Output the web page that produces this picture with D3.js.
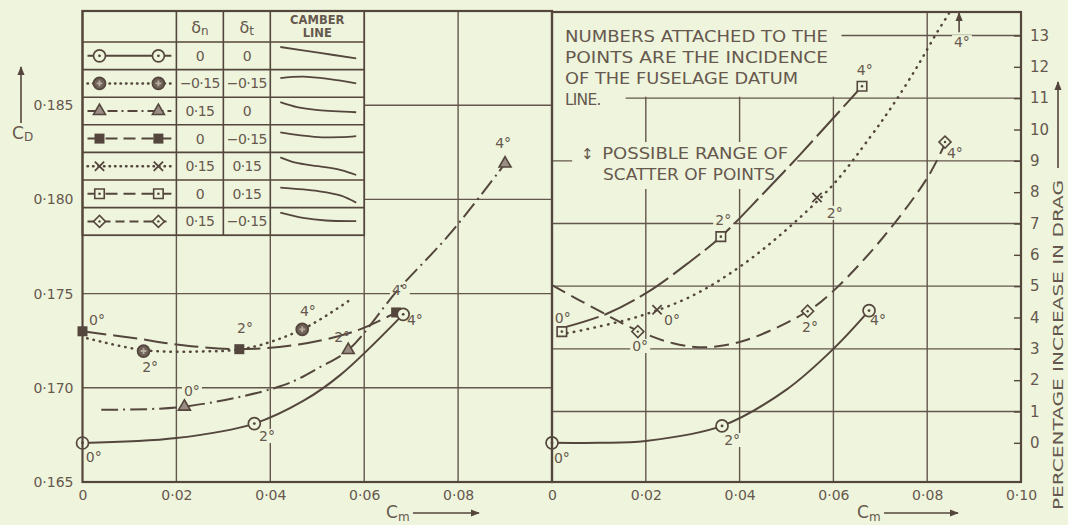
<!DOCTYPE html>
<html lang="en">
<head>
<meta charset="UTF-8">
<title>C_D and drag increase against C_m</title>
<script src="https://d3js.org/d3.v7.min.js"></script>
<style>
  body { margin: 0; background: #eef5dc; }
  svg { display: block; }
  text { font-family: "DejaVu Sans", sans-serif; fill: #66584e; }
</style>
</head>
<body>
<svg id="chart" width="1068" height="525"></svg>
<script>
// ---- ticks and grid ----
const cmTicksLeft = [0, 0.02, 0.04, 0.06, 0.08];
const cmTicksRight = [0, 0.02, 0.04, 0.06, 0.08, 0.10];
const cmGrid = [0.02, 0.04, 0.06, 0.08];
const cdTicks = [0.165, 0.170, 0.175, 0.180, 0.185];
const cdGrid = [0.170, 0.175, 0.180, 0.185];
const pctTicks = [0, 1, 2, 3, 4, 5, 6, 7, 8, 9, 10, 11, 12, 13];
const pctGrid = [1, 3, 5, 7, 9, 11, 13];

// ---- legend table ----
const legendKeys = ["circleDot", "circleHatch", "triangle", "squareFilled", "cross", "squareDot", "diamond"];
const legendDeltaN = ["0", "\u22120\u00b715", "0\u00b715", "0", "0\u00b715", "0", "0\u00b715"];
const legendDeltaT = ["0", "\u22120\u00b715", "0", "\u22120\u00b715", "0\u00b715", "0\u00b715", "\u22120\u00b715"];
// camber line shapes, [chordwise fraction, depth fraction]
const camberLines = [
  [[0, 0.0], [0.5, 0.32], [1, 0.65]],
  [[0, 0.2], [0.3, 0.12], [0.65, 0.26], [1, 0.5]],
  [[0, 0.0], [0.22, 0.28], [0.5, 0.45], [1, 0.57]],
  [[0, 0.15], [0.45, 0.4], [0.8, 0.42], [1, 0.36]],
  [[0, 0.0], [0.2, 0.3], [0.5, 0.5], [0.8, 0.72], [1, 1.0]],
  [[0, 0.15], [0.5, 0.35], [0.8, 0.6], [1, 1.0]],
  [[0, 0.0], [0.3, 0.3], [0.6, 0.45], [1, 0.48]]
];

// ---- left panel: C_D against C_m ----
const cdCircleDotPts = [[0, 0.16707], [0.0366, 0.1681], [0.0683, 0.1739]];
const cdCircleDotCurve = [[0, 0.16707], [0.02, 0.16733], [0.0366, 0.1681], [0.047, 0.1693], [0.055, 0.1707], [0.0683, 0.1739]];
const cdHatchPts = [[0.013, 0.17195], [0.0468, 0.1731]];
const cdHatchCurve = [[0.001, 0.17263], [0.013, 0.172], [0.025, 0.17193], [0.035, 0.1721], [0.0468, 0.1731], [0.0566, 0.1746]];
const cdTrianglePts = [[0.0217, 0.169], [0.0566, 0.172], [0.09, 0.1819]];
const cdTriangleCurve = [[0.004, 0.16884], [0.0217, 0.169], [0.0428, 0.17014], [0.0506, 0.1711], [0.0566, 0.172], [0.0672, 0.1752], [0.078, 0.1781], [0.09, 0.1819]];
const cdSquarePts = [[0, 0.173], [0.0334, 0.17205], [0.0668, 0.174]];
const cdSquareCurve = [[0, 0.173], [0.012, 0.1726], [0.02, 0.1723], [0.0334, 0.17205], [0.046, 0.1723], [0.058, 0.173], [0.0668, 0.174]];
const cdLabels = [
  [0.0031, 0.1736, "0°"], [0.0024, 0.16633, "0°"], [0.0144, 0.1711, "2°"], [0.0233, 0.16983, "0°"],
  [0.0393, 0.16744, "2°"], [0.0346, 0.17317, "2°"], [0.048, 0.17408, "4°"], [0.0553, 0.1727, "2°"],
  [0.0676, 0.1752, "4°"], [0.0708, 0.1736, "4°"], [0.0896, 0.183, "4°"]
];

// ---- right panel: percentage increase in drag against C_m ----
const pctCircleDotPts = [[0, 0], [0.03625, 0.54], [0.0676, 4.22]];
const pctCircleDotCurve = [[0, 0], [0.01, 0], [0.02, 0.06], [0.03625, 0.54], [0.05, 1.7], [0.06, 3.0], [0.0676, 4.22]];
const pctSquareDotPts = [[0.0021, 3.55], [0.036, 6.58], [0.0661, 11.38]];
const pctSquareDotCurve = [[0.003, 3.7], [0.0117, 4.12], [0.0203, 4.8], [0.0294, 5.78], [0.036, 6.58], [0.045, 7.95], [0.0529, 9.2], [0.0614, 10.6], [0.0661, 11.38]];
const pctCrossPts = [[0.0224, 4.25], [0.0565, 7.83]];
const pctCrossCurve = [[0.0032, 3.5], [0.0066, 3.6], [0.0188, 4.05], [0.03, 4.7], [0.0407, 5.69], [0.0507, 6.9], [0.06, 8.25], [0.0678, 9.75], [0.0725, 10.74], [0.0778, 11.99], [0.0821, 13.1], [0.0848, 13.75], [0.086, 14.1]];
const pctCrossOffChart = [0.0868, 13.1, 13.72];
const pctDiamondPts = [[0.0183, 3.55], [0.0545, 4.2], [0.0838, 9.6]];
const pctDiamondCurve = [[0, 5.03], [0.0102, 4.2], [0.0183, 3.58], [0.0258, 3.18], [0.033, 3.05], [0.0416, 3.29], [0.0545, 4.2], [0.06, 4.85], [0.07, 6.45], [0.08, 8.45], [0.0838, 9.55]];
const pctLabels = [
  [0.0023, 4.0, "0°"], [0.0021, -0.49, "0°"], [0.0256, 3.92, "0°"], [0.0188, 3.09, "0°"],
  [0.0384, 0.09, "2°"], [0.0365, 7.11, "2°"], [0.055, 3.7, "2°"], [0.0603, 7.34, "2°"],
  [0.0667, 11.9, "4°"], [0.0695, 3.92, "4°"], [0.0859, 9.25, "4°"], [0.0874, 12.79, "4°"]
];

const noteLines = ["NUMBERS ATTACHED TO THE", "POINTS ARE THE INCIDENCE", "OF THE FUSELAGE DATUM", "LINE."];
const scatterLines = ["POSSIBLE RANGE OF", "SCATTER OF POINTS"];

// ---- setup ----
const svg = d3.select("#chart");
const bg = "#eef5dc", ink = "#54463d", grid = "#64564c";

const xL = d3.scaleLinear().domain([0, 0.10]).range([82.5, 552]);
const yL = d3.scaleLinear().domain([0.165, 0.190]).range([482, 11]);
const xR = d3.scaleLinear().domain([0, 0.10]).range([552, 1021]);
const yR = d3.scaleLinear().domain([-1.25, 13.75]).range([482, 12]);

svg.append("rect").attr("width", 1068).attr("height", 525).attr("fill", bg);

const defs = svg.append("defs");
defs.append("marker").attr("id", "arrow").attr("viewBox", "0 0 10 10")
  .attr("refX", 9).attr("refY", 5).attr("markerWidth", 9).attr("markerHeight", 9)
  .attr("markerUnits", "userSpaceOnUse").attr("orient", "auto")
  .append("path").attr("d", "M0,1L10,5L0,9Z").attr("fill", ink);
defs.append("clipPath").attr("id", "clipL").append("rect")
  .attr("x", xL(0)).attr("y", yL(0.19)).attr("width", xL(0.1) - xL(0)).attr("height", yL(0.165) - yL(0.19));
defs.append("clipPath").attr("id", "clipR").append("rect")
  .attr("x", xR(0)).attr("y", yR(13.75)).attr("width", xR(0.1) - xR(0)).attr("height", yR(-1.25) - yR(13.75));

// ---- grid ----
const gGrid = svg.append("g").attr("stroke", grid).attr("stroke-width", 1.4);
gGrid.selectAll(".vl").data(cmGrid).join("line")
  .attr("x1", d => xL(d)).attr("x2", d => xL(d)).attr("y1", yL(0.19)).attr("y2", yL(0.165));
gGrid.selectAll(".hl").data(cdGrid).join("line")
  .attr("x1", xL(0)).attr("x2", xL(0.1)).attr("y1", d => yL(d)).attr("y2", d => yL(d));
gGrid.append("g").selectAll("line").data(cmGrid).join("line")
  .attr("x1", d => xR(d)).attr("x2", d => xR(d)).attr("y1", yR(13.75)).attr("y2", yR(-1.25));
gGrid.append("g").selectAll("line").data(pctGrid).join("line")
  .attr("x1", xR(0)).attr("x2", xR(0.1)).attr("y1", d => yR(d)).attr("y2", d => yR(d));

// ---- masks for the notes ----
const gMask = svg.append("g").attr("fill", bg);
gMask.append("rect").attr("x", xR(0) + 1).attr("y", yR(13.75) + 1)
  .attr("width", xR(0.0615) - xR(0)).attr("height", yR(11) - yR(13.75) - 2.5);
gMask.append("rect").attr("x", xR(0) + 1).attr("y", yR(11) - 6)
  .attr("width", xR(0.0155) - xR(0)).attr("height", 12);
gMask.append("rect").attr("x", xR(0.0043)).attr("y", yR(9.6))
  .attr("width", xR(0.0523) - xR(0.0043)).attr("height", yR(8.1) - yR(9.6));

// ---- legend table ----
const tTop = yL(0.19), headH = 31, rowH = 27.6;
const tCols = [0, 0.02, 0.03, 0.04, 0.06].map(d => xL(d));
const tBottom = tTop + headH + rowH * legendKeys.length;
const gTable = svg.append("g");
gTable.append("rect").attr("x", tCols[0]).attr("y", tTop).attr("width", tCols[4] - tCols[0])
  .attr("height", tBottom - tTop).attr("fill", bg).attr("stroke", ink).attr("stroke-width", 1.8);
gTable.selectAll(".col").data(tCols.slice(1, 4)).join("line")
  .attr("x1", d => d).attr("x2", d => d).attr("y1", tTop).attr("y2", tBottom)
  .attr("stroke", ink).attr("stroke-width", 1.6);
gTable.selectAll(".row").data(legendKeys).join("line")
  .attr("x1", tCols[0]).attr("x2", tCols[4])
  .attr("y1", (d, i) => tTop + headH + rowH * i).attr("y2", (d, i) => tTop + headH + rowH * i)
  .attr("stroke", ink).attr("stroke-width", 1.6);

const hdr = (x, sub) => {
  const t = gTable.append("text").attr("x", x).attr("y", tTop + 22).attr("text-anchor", "middle")
    .attr("font-size", 16);
  t.append("tspan").text("\u03b4");
  t.append("tspan").attr("font-size", 12).attr("dy", 2).text(sub);
};
hdr((tCols[1] + tCols[2]) / 2, "n");
hdr((tCols[2] + tCols[3]) / 2, "t");
gTable.append("text").attr("x", (tCols[3] + tCols[4]) / 2).attr("y", tTop + 13).attr("text-anchor", "middle")
  .attr("font-size", 11.5).attr("font-weight", "bold").text("CAMBER");
gTable.append("text").attr("x", (tCols[3] + tCols[4]) / 2).attr("y", tTop + 26).attr("text-anchor", "middle")
  .attr("font-size", 11.5).attr("font-weight", "bold").text("LINE");

// ---- markers ----
function drawMarker(g, key, cx, cy) {
  const m = g.append("g").attr("transform", `translate(${cx},${cy})`);
  if (key === "circleDot") {
    m.append("circle").attr("r", 6).attr("fill", bg).attr("stroke", ink).attr("stroke-width", 1.7);
    m.append("circle").attr("r", 1.4).attr("fill", ink);
  } else if (key === "circleHatch") {
    m.append("circle").attr("r", 6).attr("fill", "#6e6158").attr("stroke", ink).attr("stroke-width", 1.7);
    m.append("path").attr("d", d3.symbol(d3.symbolCross, 18)()).attr("fill", "#b7ae9f");
  } else if (key === "triangle") {
    m.append("path").attr("d", d3.symbol(d3.symbolTriangle, 62)()).attr("fill", "#9a8d83")
      .attr("stroke", ink).attr("stroke-width", 1.6);
  } else if (key === "squareFilled") {
    m.append("path").attr("d", d3.symbol(d3.symbolSquare, 100)()).attr("fill", ink);
  } else if (key === "cross") {
    m.append("path").attr("d", d3.symbol(d3.symbolTimes, 58)()).attr("fill", "none")
      .attr("stroke", ink).attr("stroke-width", 1.8);
  } else if (key === "squareDot") {
    m.append("path").attr("d", d3.symbol(d3.symbolSquare, 90)()).attr("fill", bg)
      .attr("stroke", ink).attr("stroke-width", 1.6);
    m.append("circle").attr("r", 1.3).attr("fill", ink);
  } else if (key === "diamond") {
    m.append("path").attr("d", d3.symbol(d3.symbolSquare, 72)()).attr("transform", "rotate(45)")
      .attr("fill", bg).attr("stroke", ink).attr("stroke-width", 1.6);
    m.append("circle").attr("r", 1.2).attr("fill", ink);
  }
}

const lineStyle = {
  circleDot: { dash: null, cap: "butt", w: 2 },
  circleHatch: { dash: "0.5,6", cap: "round", w: 2.5 },
  triangle: { dash: "17,5,2,5", cap: "butt", w: 2 },
  squareFilled: { dash: "24,7", cap: "butt", w: 2 },
  cross: { dash: "0.5,6.5", cap: "round", w: 2.5 },
  squareDot: { dash: "34,6", cap: "butt", w: 2 },
  diamond: { dash: "15,7", cap: "butt", w: 2 }
};
const legendDash = {
  circleDot: null, circleHatch: "0.5,5", triangle: "10,4,2,4", squareFilled: "12,6",
  cross: "0.5,5", squareDot: "12,6", diamond: "9,5"
};

const camberX = d3.scaleLinear().domain([0, 1]).range([tCols[3] + 10, tCols[4] - 8]);
legendKeys.forEach((key, i) => {
  const top = tTop + headH + rowH * i, cy = top + rowH / 2;
  const s = lineStyle[key];
  gTable.append("line").attr("x1", tCols[0] + 5).attr("x2", tCols[1] - 5).attr("y1", cy).attr("y2", cy)
    .attr("stroke", ink).attr("stroke-width", s.w).attr("stroke-linecap", s.cap)
    .attr("stroke-dasharray", legendDash[key]);
  drawMarker(gTable, key, tCols[0] + 17, cy);
  drawMarker(gTable, key, tCols[1] - 18, cy);
  gTable.append("text").attr("x", (tCols[1] + tCols[2]) / 2).attr("y", cy + 5).attr("text-anchor", "middle")
    .attr("font-size", 14).attr("letter-spacing", -0.6).text(legendDeltaN[i]);
  gTable.append("text").attr("x", (tCols[2] + tCols[3]) / 2).attr("y", cy + 5).attr("text-anchor", "middle")
    .attr("font-size", 14).attr("letter-spacing", -0.6).text(legendDeltaT[i]);
  const camberY = d3.scaleLinear().domain([0, 1]).range([top + 5, top + rowH - 5]);
  gTable.append("path")
    .attr("d", d3.line().x(d => camberX(d[0])).y(d => camberY(d[1])).curve(d3.curveCatmullRom.alpha(0.5))(camberLines[i]))
    .attr("fill", "none").attr("stroke", ink).attr("stroke-width", 1.8);
});

// ---- series ----
const haloLayer = svg.append("g").attr("fill", bg);
const curveLayerL = svg.append("g").attr("clip-path", "url(#clipL)");
const curveLayerR = svg.append("g").attr("clip-path", "url(#clipR)");
const markerLayer = svg.append("g");
const labelLayer = svg.append("g");

const leftSeries = [
  { key: "circleDot", curve: cdCircleDotCurve, pts: cdCircleDotPts },
  { key: "circleHatch", curve: cdHatchCurve, pts: cdHatchPts },
  { key: "triangle", curve: cdTriangleCurve, pts: cdTrianglePts },
  { key: "squareFilled", curve: cdSquareCurve, pts: cdSquarePts }
];
const rightSeries = [
  { key: "circleDot", curve: pctCircleDotCurve, pts: pctCircleDotPts },
  { key: "squareDot", curve: pctSquareDotCurve, pts: pctSquareDotPts },
  { key: "cross", curve: pctCrossCurve, pts: pctCrossPts },
  { key: "diamond", curve: pctDiamondCurve, pts: pctDiamondPts }
];

function drawSeries(list, layer, x, y) {
  const line = d3.line().x(d => x(d[0])).y(d => y(d[1])).curve(d3.curveCatmullRom.alpha(0.5));
  list.forEach(s => {
    const st = lineStyle[s.key];
    layer.append("path").attr("d", line(s.curve)).attr("fill", "none")
      .attr("stroke", ink).attr("stroke-width", st.w).attr("stroke-linecap", st.cap)
      .attr("stroke-dasharray", st.dash);
  });
  // draw square first so the circle sits beside it
  list.slice().reverse().forEach(s => s.pts.forEach(p => drawMarker(markerLayer, s.key, x(p[0]), y(p[1]))));
}
drawSeries(leftSeries, curveLayerL, xL, yL);
drawSeries(rightSeries, curveLayerR, xR, yR);

// off-chart point arrow
markerLayer.append("line")
  .attr("x1", xR(pctCrossOffChart[0])).attr("x2", xR(pctCrossOffChart[0]))
  .attr("y1", yR(pctCrossOffChart[1])).attr("y2", yR(pctCrossOffChart[2]))
  .attr("stroke", ink).attr("stroke-width", 1.6).attr("marker-end", "url(#arrow)");

function addLabel(x, y, txt, size) {
  const t = labelLayer.append("text").attr("x", x).attr("y", y + 5).attr("text-anchor", "middle")
    .attr("font-size", size || 14).text(txt);
  const b = t.node().getBBox();
  haloLayer.append("rect").attr("x", b.x - 2).attr("y", b.y + 1).attr("width", b.width + 4).attr("height", b.height - 2);
}
cdLabels.forEach(d => addLabel(xL(d[0]), yL(d[1]), d[2]));
pctLabels.forEach(d => addLabel(xR(d[0]), yR(d[1]), d[2]));

// ---- notes ----
const noteLen = [263, 263, 233, null];
noteLines.forEach((s, i) => {
  const t = svg.append("text").attr("x", xR(0) + 13).attr("y", yR(13.75) + 30 + i * 21)
    .attr("font-size", 15.5).text(s);
  if (noteLen[i]) t.attr("textLength", noteLen[i]).attr("lengthAdjust", "spacingAndGlyphs");
  else t.attr("letter-spacing", -0.8);
});
svg.append("text").attr("x", xR(0.0075)).attr("y", yR(9.05)).attr("text-anchor", "middle")
  .attr("font-size", 15).text("\u2195");
svg.append("text").attr("x", xR(0.0107)).attr("y", yR(9.05)).attr("font-size", 15.5)
  .attr("textLength", 186).attr("lengthAdjust", "spacingAndGlyphs").text(scatterLines[0]);
svg.append("text").attr("x", xR(0.0109)).attr("y", yR(8.4)).attr("font-size", 15.5)
  .attr("textLength", 172).attr("lengthAdjust", "spacingAndGlyphs").text(scatterLines[1]);

// ---- frames ----
const gFrame = svg.append("g").attr("fill", "none").attr("stroke", ink).attr("stroke-width", 2.2);
gFrame.append("rect").attr("x", xL(0)).attr("y", yL(0.19)).attr("width", xL(0.1) - xL(0)).attr("height", yL(0.165) - yL(0.19));
gFrame.append("rect").attr("x", xR(0)).attr("y", yR(13.75)).attr("width", xR(0.1) - xR(0)).attr("height", yR(-1.25) - yR(13.75));

// ---- axes ----
const dot = f => d => d === 0 ? "0" : f(d).replace(".", "\u00b7");
const axB1 = svg.append("g").attr("transform", `translate(0,${yL(0.165)})`)
  .call(d3.axisBottom(xL).tickValues(cmTicksLeft).tickSize(0).tickPadding(8).tickFormat(dot(d3.format(".2f"))));
const axB2 = svg.append("g").attr("transform", `translate(0,${yR(-1.25)})`)
  .call(d3.axisBottom(xR).tickValues(cmTicksRight).tickSize(0).tickPadding(8).tickFormat(dot(d3.format(".2f"))));
const axL = svg.append("g").attr("transform", `translate(${xL(0)},0)`)
  .call(d3.axisLeft(yL).tickValues(cdTicks).tickSize(0).tickPadding(9).tickFormat(dot(d3.format(".3f"))));
const axR = svg.append("g").attr("transform", `translate(${xR(0.1)},0)`)
  .call(d3.axisRight(yR).tickValues(pctTicks).tickSize(-7).tickPadding(9));
[axB1, axB2, axL, axR].forEach(a => {
  a.select(".domain").remove();
  a.selectAll("text").attr("font-family", "DejaVu Sans, sans-serif").attr("font-size", 14).attr("fill", "#66584e");
});
axR.selectAll("line").attr("stroke", ink).attr("stroke-width", 1.4);
axR.selectAll("text").attr("font-size", 15);

// axis titles
function cm(x0, arrowFrom, arrowTo) {
  const t = svg.append("text").attr("x", x0).attr("y", 518).attr("font-size", 17);
  t.append("tspan").text("C");
  t.append("tspan").attr("font-size", 12).attr("dy", 3).text("m");
  svg.append("line").attr("x1", arrowFrom).attr("x2", arrowTo).attr("y1", 513).attr("y2", 513)
    .attr("stroke", ink).attr("stroke-width", 1.6).attr("marker-end", "url(#arrow)");
}
cm(386, 413, 479);
cm(857, 884, 958);

const cd = svg.append("text").attr("x", 12).attr("y", 139).attr("font-size", 17);
cd.append("tspan").text("C");
cd.append("tspan").attr("font-size", 12).attr("dy", 2).text("D");
svg.append("line").attr("x1", 21).attr("x2", 21).attr("y1", 123).attr("y2", 67)
  .attr("stroke", ink).attr("stroke-width", 1.6).attr("marker-end", "url(#arrow)");

svg.append("text").attr("transform", "translate(1063,345) rotate(-90)").attr("text-anchor", "middle")
  .attr("font-size", 14.5).attr("textLength", 330).attr("lengthAdjust", "spacingAndGlyphs")
  .text("PERCENTAGE INCREASE IN DRAG");
svg.append("line").attr("x1", 1058).attr("x2", 1058).attr("y1", 168).attr("y2", 82)
  .attr("stroke", ink).attr("stroke-width", 1.6).attr("marker-end", "url(#arrow)");
</script>
</body>
</html>
